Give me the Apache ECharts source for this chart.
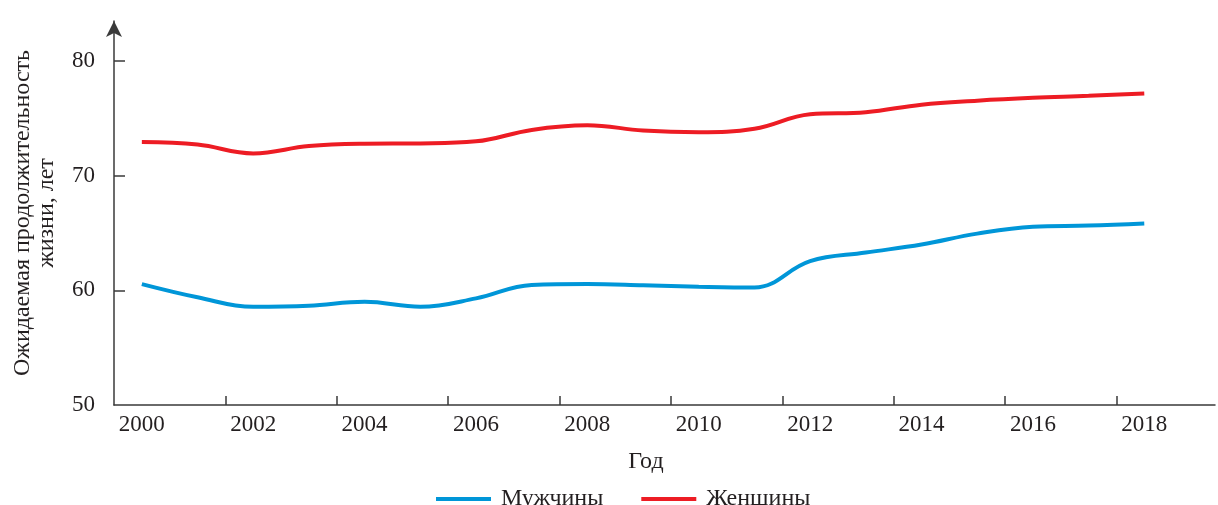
<!DOCTYPE html>
<html>
<head>
<meta charset="utf-8">
<script src="https://cdn.jsdelivr.net/npm/echarts@6/dist/echarts.min.js"></script>
<style>
  html, body { margin: 0; padding: 0; background: #fff; }
  #chart { width: 1218px; height: 505px; }
</style>
</head>
<body>
<div id="chart"></div>
<script>
var years = [2000, 2001, 2002, 2003, 2004, 2005, 2006, 2007, 2008, 2009,
             2010, 2011, 2012, 2013, 2014, 2015, 2016, 2017, 2018];
var men   = [60.55, 59.4, 58.57, 58.66, 59.0, 58.57, 59.3, 60.47, 60.55, 60.45,
             60.32, 60.25, 62.55, 63.3, 64.0, 64.95, 65.55, 65.65, 65.83];
var women = [72.94, 72.72, 71.95, 72.59, 72.79, 72.82, 73.0, 74.0, 74.4, 73.95,
             73.8, 74.1, 75.37, 75.54, 76.2, 76.55, 76.8, 76.97, 77.18];
var xLabels = [2000, 2002, 2004, 2006, 2008, 2010, 2012, 2014, 2016, 2018];
var xTicks  = [2001.5, 2003.5, 2005.5, 2007.5, 2009.5, 2011.5, 2013.5, 2015.5, 2017.5];
var yLabels = [50, 60, 70, 80];
var yTicks  = [60, 70, 80];

var font = 'Liberation Serif';
var textColor = '#231f20';
var axisColor = '#3a3a3a';

function pairs(vals) {
  return years.map(function (y, i) { return [y, vals[i]]; });
}

var chart = echarts.init(document.getElementById('chart'));

var option = {
  animation: false,
  grid: {
    left: 114,
    right: 3,
    top: 21,
    bottom: 100
  },
  legend: {
    left: 431,
    top: 482,
    icon: 'rect',
    itemWidth: 55,
    itemHeight: 4,
    itemGap: 38,
    textStyle: {
      fontFamily: font,
      fontSize: 24,
      color: textColor,
      padding: [0, 0, 0, 5]
    },
    data: ['Мужчины', 'Женщины']
  },
  xAxis: {
    type: 'value',
    min: 1999.5,
    max: 2019.27,
    name: 'Год',
    nameLocation: 'middle',
    nameGap: 45,
    nameTextStyle: {
      fontFamily: font,
      fontSize: 24,
      color: textColor,
      padding: [0, 37, 0, 0]
    },
    axisLine: {
      lineStyle: { color: axisColor, width: 1.5 }
    },
    axisTick: {
      inside: true,
      length: 9,
      customValues: xTicks,
      lineStyle: { color: axisColor, width: 1.5 }
    },
    axisLabel: {
      customValues: xLabels,
      margin: 8,
      fontFamily: font,
      fontSize: 23,
      color: textColor,
      formatter: function (v) { return String(v); }
    },
    splitLine: { show: false }
  },
  yAxis: {
    type: 'value',
    min: 50,
    max: 83.5,
    name: 'Ожидаемая продолжительность\nжизни, лет',
    nameLocation: 'middle',
    nameRotate: 90,
    nameGap: 55,
    nameTextStyle: {
      fontFamily: font,
      fontSize: 24,
      lineHeight: 24,
      color: textColor
    },
    axisLine: {
      show: true,
      symbol: ['none', 'arrow'],
      symbolSize: [12, 16],
      lineStyle: { color: axisColor, width: 1.5 }
    },
    axisTick: {
      show: true,
      inside: true,
      length: 11,
      customValues: yTicks,
      lineStyle: { color: axisColor, width: 1.5 }
    },
    axisLabel: {
      customValues: yLabels,
      margin: 19,
      fontFamily: font,
      fontSize: 23,
      color: textColor
    },
    splitLine: { show: false }
  },
  series: [
    {
      name: 'Мужчины',
      type: 'line',
      smooth: 0.4,
      showSymbol: false,
      data: pairs(men),
      itemStyle: { color: '#0096d8' },
      lineStyle: { color: '#0096d8', width: 4 }
    },
    {
      name: 'Женщины',
      type: 'line',
      smooth: 0.4,
      showSymbol: false,
      data: pairs(women),
      itemStyle: { color: '#ed1c24' },
      lineStyle: { color: '#ed1c24', width: 4 }
    }
  ]
};

chart.setOption(option);
window.addEventListener('resize', function () {
  chart.resize();
});
</script>
</body>
</html>
